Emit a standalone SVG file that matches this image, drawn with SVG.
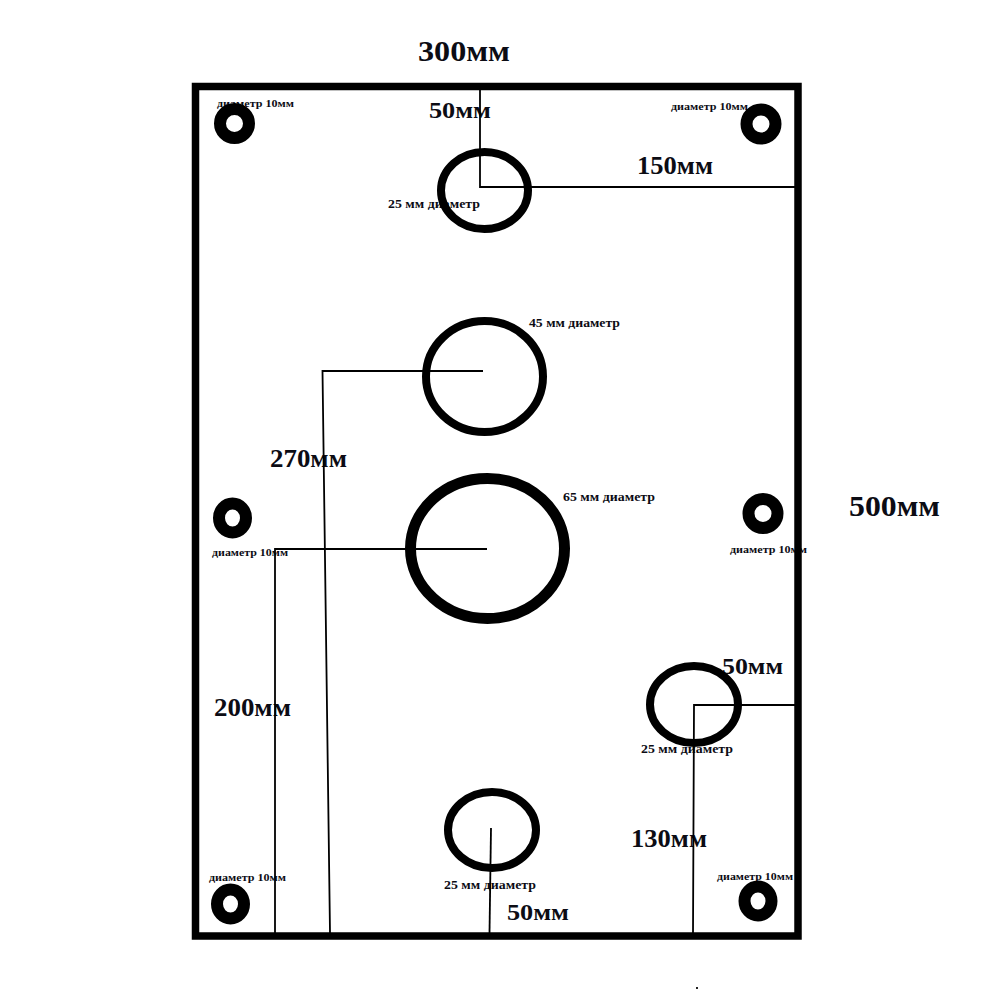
<svg xmlns="http://www.w3.org/2000/svg" width="1000" height="1000" viewBox="0 0 1000 1000">
<style>
text{font-family:"Liberation Serif","Noto Serif",serif;font-weight:700;fill:#0c0c14}
.x{font-size:29px}.l{font-size:25px}.m{font-size:24px}
.s{font-size:11.5px}.t{font-size:10.5px}
.hole{fill:none;stroke:#000;stroke-width:8}
.big{stroke-width:11}
.ring{fill:#fff;stroke:#000;stroke-width:12}
.conn{fill:none;stroke:#000;stroke-width:1.8}
</style>
<rect width="1000" height="1000" fill="#fff"/>
<g id="labels">
<text class="x" x="418" y="61" textLength="92" lengthAdjust="spacingAndGlyphs">300мм</text>
<text class="x" x="849" y="516" textLength="91" lengthAdjust="spacingAndGlyphs">500мм</text>
<text class="m" x="429" y="118" textLength="62" lengthAdjust="spacingAndGlyphs">50мм</text>
<text class="l" x="637" y="174" textLength="76" lengthAdjust="spacingAndGlyphs">150мм</text>
<text class="l" x="270" y="467" textLength="77" lengthAdjust="spacingAndGlyphs">270мм</text>
<text class="m" x="722" y="674" textLength="61" lengthAdjust="spacingAndGlyphs">50мм</text>
<text class="l" x="214" y="716" textLength="77" lengthAdjust="spacingAndGlyphs">200мм</text>
<text class="l" x="631" y="847" textLength="76" lengthAdjust="spacingAndGlyphs">130мм</text>
<text class="m" x="507" y="920" textLength="62" lengthAdjust="spacingAndGlyphs">50мм</text>
<text class="s" x="388" y="208" textLength="92" lengthAdjust="spacingAndGlyphs">25 мм диаметр</text>
<text class="s" x="529" y="327" textLength="91" lengthAdjust="spacingAndGlyphs">45 мм диаметр</text>
<text class="s" x="563" y="501" textLength="92" lengthAdjust="spacingAndGlyphs">65 мм диаметр</text>
<text class="s" x="641" y="753" textLength="92" lengthAdjust="spacingAndGlyphs">25 мм диаметр</text>
<text class="s" x="444" y="889" textLength="92" lengthAdjust="spacingAndGlyphs">25 мм диаметр</text>
<text class="t" x="217" y="107" textLength="77" lengthAdjust="spacingAndGlyphs">диаметр 10мм</text>
<text class="t" x="671" y="110" textLength="77" lengthAdjust="spacingAndGlyphs">диаметр 10мм</text>
<text class="t" x="212" y="556" textLength="76" lengthAdjust="spacingAndGlyphs">диаметр 10мм</text>
<text class="t" x="730" y="553" textLength="77" lengthAdjust="spacingAndGlyphs">диаметр 10мм</text>
<text class="t" x="209" y="881" textLength="77" lengthAdjust="spacingAndGlyphs">диаметр 10мм</text>
<text class="t" x="717" y="880" textLength="76" lengthAdjust="spacingAndGlyphs">диаметр 10мм</text>
</g>
<g id="plate"><rect x="195.5" y="86.500" width="602.500" height="849.500" fill="none" stroke="#000" stroke-width="7.500"/></g>
<g id="hole-top"><ellipse class="hole" cx="484.500" cy="190.500" rx="43.500" ry="38.500"/></g>
<g id="hole-45"><ellipse class="hole" cx="484.500" cy="376.500" rx="58.500" ry="55.500"/></g>
<g id="hole-65"><ellipse class="hole big" cx="487.500" cy="548.500" rx="77" ry="70"/></g>
<g id="hole-right"><ellipse class="hole" cx="694" cy="704.500" rx="44" ry="38.500"/></g>
<g id="hole-bottom"><ellipse class="hole" cx="492" cy="830" rx="44" ry="38"/></g>
<g id="ring-tl"><ellipse class="ring" cx="234.500" cy="123.500" rx="14.500" ry="14.500"/></g>
<g id="ring-tr"><ellipse class="ring" cx="761" cy="124" rx="14.500" ry="14.500"/></g>
<g id="ring-ml"><ellipse class="ring" cx="232.500" cy="518" rx="13.500" ry="14.500"/></g>
<g id="ring-mr"><ellipse class="ring" cx="763" cy="513.500" rx="14.500" ry="14.500"/></g>
<g id="ring-bl"><ellipse class="ring" cx="230.500" cy="904" rx="13.500" ry="14.500"/></g>
<g id="ring-br"><ellipse class="ring" cx="758" cy="901" rx="13.500" ry="14.500"/></g>
<g id="connectors">
<path class="conn" d="M480 90V187H796"/>
<path class="conn" d="M483 371H322.500L330 933"/>
<path class="conn" d="M487 549H275V933"/>
<path class="conn" d="M795 705H694L693 933"/>
<path class="conn" d="M491 828L489.500 933"/>
</g>
<rect id="speck" x="696" y="987" width="2" height="2" fill="#222"/>
</svg>
